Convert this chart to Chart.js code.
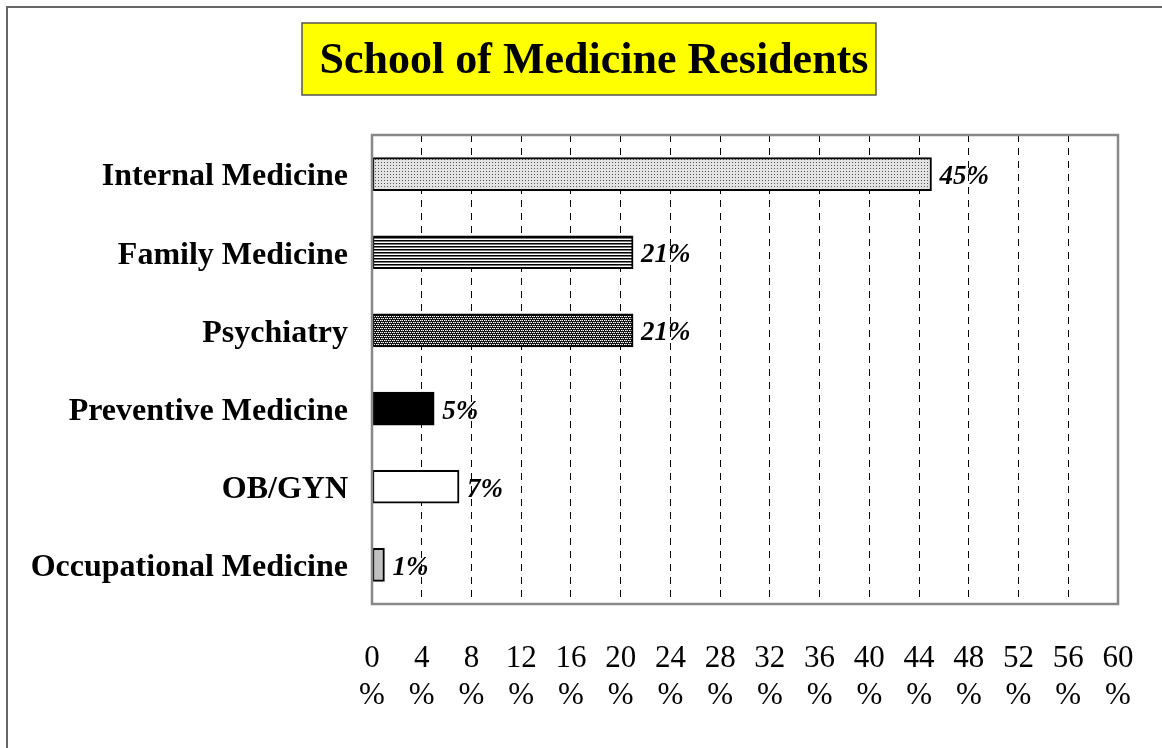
<!DOCTYPE html>
<html>
<head>
<meta charset="utf-8">
<script src="https://cdn.jsdelivr.net/npm/chart.js@4.4.0/dist/chart.umd.min.js"></script>
<style>
  html, body { margin: 0; padding: 0; background: #fff; }
  #wrap { width: 1162px; height: 748px; }
</style>
</head>
<body>
<div id="wrap"><canvas id="residentsChart" width="1162" height="748"></canvas></div>
<script>
// Data
const titleText = 'School of Medicine Residents';
const specialties = ['Internal Medicine', 'Family Medicine', 'Psychiatry', 'Preventive Medicine', 'OB/GYN', 'Occupational Medicine'];
const percentages = [45, 21, 21, 5, 7, 1];
const axisMin = 0;
const axisMax = 60;
const axisStep = 4;

const serif = '"Liberation Serif", "Times New Roman", serif';

// Fill patterns, similar to the old office chart look
function makePattern(size, draw) {
    const c = document.createElement('canvas');
    c.width = size; c.height = size;
    const g = c.getContext('2d');
    draw(g);
    return document.getElementById('residentsChart').getContext('2d').createPattern(c, 'repeat');
}

const stipple = makePattern(3, function(g) {
    g.fillStyle = '#e4e4e4'; g.fillRect(0, 0, 3, 3);
    g.fillStyle = '#555'; g.fillRect(0, 0, 1, 1);
});
const hstripes = makePattern(3, function(g) {
    g.fillStyle = '#fff'; g.fillRect(0, 0, 3, 3);
    g.fillStyle = '#000'; g.fillRect(0, 0, 3, 1);
    g.fillStyle = '#777'; g.fillRect(0, 1, 3, 1);
});
const checker = makePattern(4, function(g) {
    g.fillStyle = '#111'; g.fillRect(0, 0, 4, 4);
    g.fillStyle = '#fff';
    g.fillRect(0, 0, 1, 1); g.fillRect(2, 0, 1, 1);
    g.fillRect(1, 2, 1, 1); g.fillRect(3, 2, 1, 1);
    g.fillStyle = '#888';
    g.fillRect(1, 0, 1, 1); g.fillRect(2, 2, 1, 1);
});
const barFills = [stipple, hstripes, checker, '#000', '#fff', '#c0c0c0'];

// Frame, title box, plot border and value labels
const decorations = {
    id: 'decorations',
    beforeDraw(chart) {
        const ctx = chart.ctx;
        ctx.save();
        ctx.fillStyle = '#fff';
        ctx.fillRect(0, 0, chart.width, chart.height);
        ctx.strokeStyle = '#666';
        ctx.lineWidth = 2;
        ctx.strokeRect(7, 7, chart.width + 20, chart.height + 20);
        // title box
        ctx.fillStyle = '#ffff00';
        ctx.fillRect(302, 23, 574, 72);
        ctx.strokeStyle = '#555';
        ctx.lineWidth = 1.5;
        ctx.strokeRect(302, 23, 574, 72);
        ctx.fillStyle = '#000';
        ctx.font = 'bold 44px ' + serif;
        ctx.textAlign = 'center';
        ctx.textBaseline = 'middle';
        ctx.fillText(titleText, 594, 62);
        ctx.restore();
    },
    afterDraw(chart) {
        const ctx = chart.ctx;
        const a = chart.chartArea;
        ctx.save();
        ctx.strokeStyle = '#888';
        ctx.lineWidth = 2.5;
        ctx.strokeRect(a.left, a.top, a.right - a.left, a.bottom - a.top);
        ctx.fillStyle = '#000';
        ctx.font = 'italic bold 27px ' + serif;
        ctx.textAlign = 'left';
        ctx.textBaseline = 'middle';
        chart.getDatasetMeta(0).data.forEach(function(bar, i) {
            ctx.fillText(percentages[i] + '%', bar.x + 8, bar.y + 3);
        });
        ctx.restore();
    }
};

const ctx = document.getElementById('residentsChart').getContext('2d');
new Chart(ctx, {
    type: 'bar',
    data: {
        labels: specialties,
        datasets: [{
            data: percentages,
            backgroundColor: barFills,
            borderColor: '#000',
            borderWidth: 2,
            borderSkipped: false,
            barThickness: 33
        }]
    },
    options: {
        indexAxis: 'y',
        responsive: false,
        animation: false,
        layout: { padding: { top: 135, right: 44, bottom: 0, left: 0 } },
        plugins: {
            legend: { display: false },
            title: { display: false },
            tooltip: { enabled: false }
        },
        scales: {
            x: {
                min: axisMin,
                max: axisMax,
                ticks: {
                    stepSize: axisStep,
                    color: '#000',
                    padding: 36,
                    maxRotation: 0,
                    autoSkip: false,
                    font: { family: serif, size: 31, lineHeight: 1.2 },
                    callback: function(v) { return [String(v), '%']; }
                },
                grid: {
                    drawTicks: false,
                    lineWidth: 1,
                    color: function(c) {
                        const v = c.tick ? c.tick.value : null;
                        return (v === axisMin || v === axisMax) ? 'rgba(0,0,0,0)' : '#000';
                    }
                },
                border: { display: false, dash: [7, 6] },
                afterFit: function(scale) {
                    scale.height = 144;
                    scale.paddingLeft = 0;
                    scale.paddingRight = 0;
                }
            },
            y: {
                ticks: {
                    color: '#000',
                    padding: 24,
                    labelOffset: 3,
                    font: { family: serif, size: 32, weight: 'bold' }
                },
                grid: { display: false, drawTicks: false },
                border: { display: false },
                afterFit: function(scale) { scale.width = 372; }
            }
        }
    },
    plugins: [decorations]
});
</script>
</body>
</html>
